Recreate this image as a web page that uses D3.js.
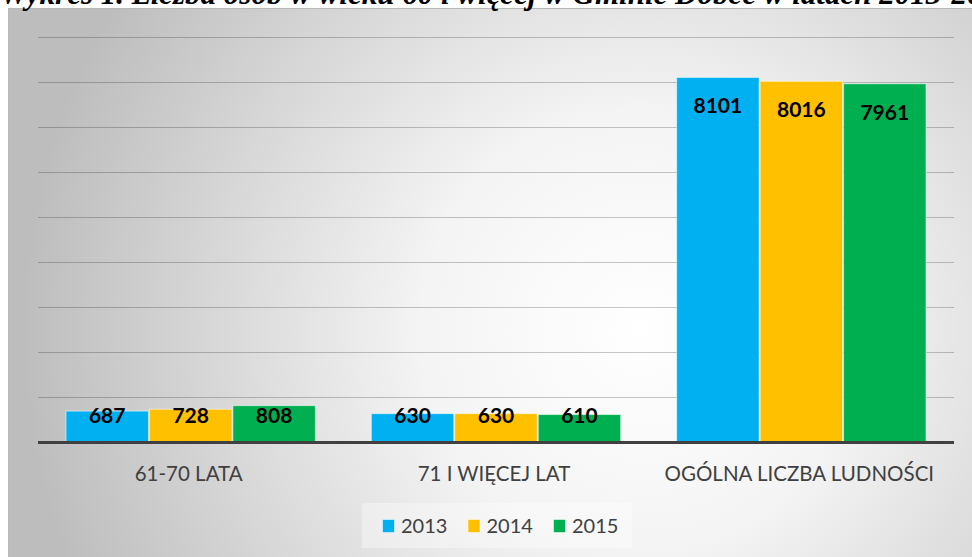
<!DOCTYPE html>
<html>
<head>
<meta charset="utf-8">
<script src="https://cdn.jsdelivr.net/npm/d3@7"></script>
<style>
  html, body { margin: 0; padding: 0; background: #fff; overflow: hidden; }
  svg { display: block; }
</style>
</head>
<body>
<div id="chart"></div>
<script>
const title = "Wykres 1. Liczba osób w wieku 60 i więcej w Gminie Dobce w latach 2013-2015";
const categories = ["61-70 LATA", "71 I WIĘCEJ LAT", "OGÓLNA LICZBA LUDNOŚCI"];
const years = ["2013", "2014", "2015"];
const values2013 = [687, 630, 8101];
const values2014 = [728, 630, 8016];
const values2015 = [808, 610, 7961];
const colors = ["#00B0F0", "#FFC000", "#00B050"];
const yTicks = [0, 1000, 2000, 3000, 4000, 5000, 6000, 7000, 8000, 9000];

const width = 972, height = 557;
const series = [values2013, values2014, values2015];

const svg = d3.select("#chart").append("svg")
  .attr("width", width)
  .attr("height", height);

// background of the chart area
const defs = svg.append("defs");
const grad = defs.append("radialGradient")
  .attr("id", "bg")
  .attr("gradientUnits", "userSpaceOnUse")
  .attr("cx", 640).attr("cy", 330).attr("r", 620);
grad.append("stop").attr("offset", "0%").attr("stop-color", "#ffffff");
grad.append("stop").attr("offset", "35%").attr("stop-color", "#f4f4f4");
grad.append("stop").attr("offset", "100%").attr("stop-color", "#bdbdbd");

svg.append("rect")
  .attr("x", 8.5).attr("y", 8.5)
  .attr("width", width - 8).attr("height", height)
  .attr("fill", "url(#bg)")
  .attr("stroke", "#b8b8b8");

// caption above the chart, cut by the top edge as in the source
svg.append("text")
  .attr("x", 0).attr("y", 4)
  .attr("font-family", "Liberation Serif")
  .attr("font-weight", "bold")
  .attr("font-style", "italic")
  .attr("font-size", 31)
  .attr("fill", "#000")
  .text(title);

const x0 = d3.scaleBand()
  .domain(categories)
  .range([38, 954])
  .paddingInner(0.18)
  .paddingOuter(0.09);

const x1 = d3.scaleBand()
  .domain(years)
  .range([0, x0.bandwidth()]);

const y = d3.scaleLinear()
  .domain([0, 9000])
  .range([442, 37]);

// gridlines
svg.append("g")
  .selectAll("line")
  .data(yTicks.slice(1))
  .join("line")
  .attr("x1", 38).attr("x2", 954)
  .attr("y1", d => y(d) + 0.5).attr("y2", d => y(d) + 0.5)
  .attr("stroke", "#000")
  .attr("stroke-opacity", 0.22);

// bars
const groups = svg.append("g")
  .selectAll("g")
  .data(categories)
  .join("g")
  .attr("transform", d => `translate(${x0(d)},0)`);

groups.selectAll("rect")
  .data((d, i) => years.map((yr, j) => ({ yr, j, v: series[j][i] })))
  .join("rect")
  .attr("x", d => x1(d.yr) + 0.5)
  .attr("y", d => y(d.v))
  .attr("width", x1.bandwidth() - 1)
  .attr("height", d => y(0) - y(d.v))
  .attr("fill", d => colors[d.j])
  .attr("stroke", "#fff")
  .attr("stroke-opacity", 0.55)
  .attr("stroke-width", 1);

groups.selectAll("text")
  .data((d, i) => years.map((yr, j) => ({ yr, j, v: series[j][i] })))
  .join("text")
  .attr("x", d => x1(d.yr) + x1.bandwidth() / 2)
  .attr("y", d => Math.min(y(d.v) + 36, y(0) - 19))
  .attr("text-anchor", "middle")
  .attr("font-family", "Lato")
  .attr("font-weight", "bold")
  .attr("font-size", 21)
  .attr("fill", "#000")
  .text(d => d.v);

// baseline axis
svg.append("line")
  .attr("x1", 38).attr("x2", 954)
  .attr("y1", y(0) + 0.5).attr("y2", y(0) + 0.5)
  .attr("stroke", "#404040")
  .attr("stroke-width", 3);

// category labels
svg.append("g")
  .selectAll("text")
  .data(categories)
  .join("text")
  .attr("x", d => x0(d) + x0.bandwidth() / 2 - 2)
  .attr("y", 481)
  .attr("text-anchor", "middle")
  .attr("font-family", "Lato")
  .attr("font-size", 20.5)
  .attr("fill", "#404040")
  .text(d => d);

// legend
const legend = svg.append("g");
legend.append("rect")
  .attr("x", 362).attr("y", 503)
  .attr("width", 270).attr("height", 45)
  .attr("fill", "#fff")
  .attr("fill-opacity", 0.35);

const items = legend.selectAll("g")
  .data(years)
  .join("g")
  .attr("transform", (d, i) => `translate(${382 + i * 85.5},0)`);

items.append("rect")
  .attr("x", 0.5).attr("y", 519.5)
  .attr("width", 12).attr("height", 13)
  .attr("fill", (d, i) => colors[i])
  .attr("stroke", "#fff")
  .attr("stroke-opacity", 0.5);

items.append("text")
  .attr("x", 19).attr("y", 533)
  .attr("font-family", "Lato")
  .attr("font-size", 20)
  .attr("fill", "#404040")
  .text(d => d);
</script>
</body>
</html>
